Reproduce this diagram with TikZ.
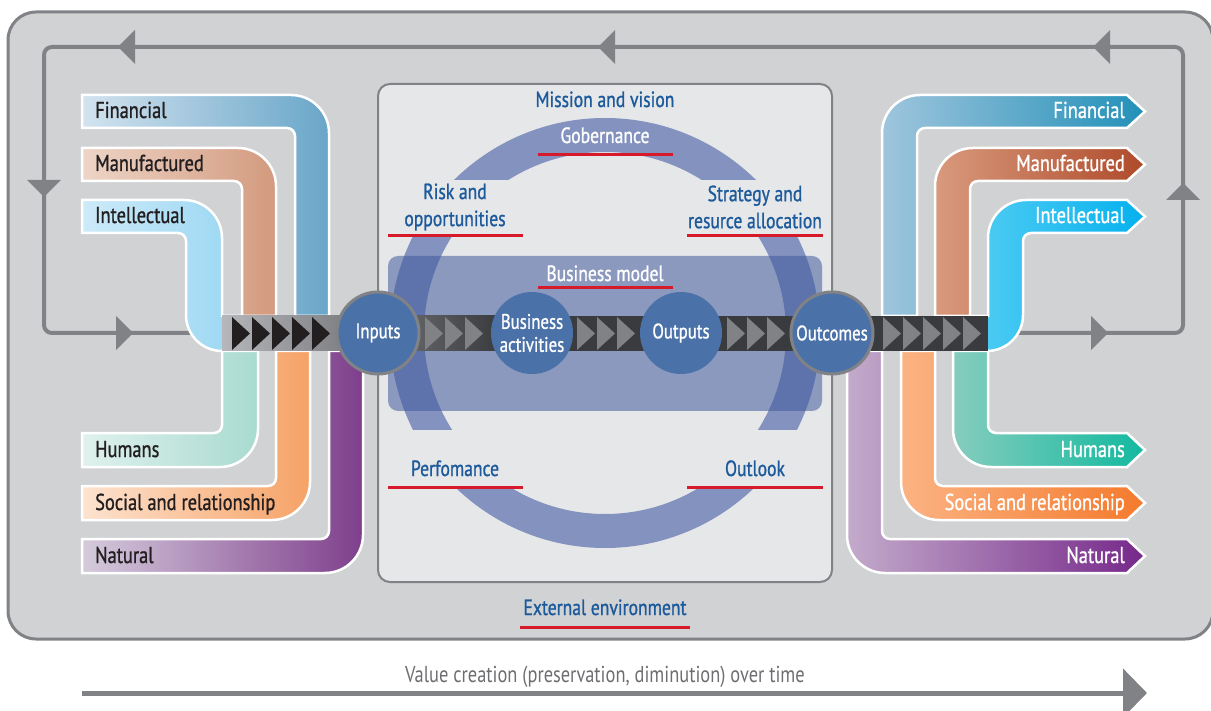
\documentclass[tikz,border=0pt]{standalone}
\usepackage{fontspec}
\setmainfont{PT Sans}[FakeStretch=0.8, FakeBold=1]
\newfontfamily\thinfont{PT Sans}[FakeStretch=0.8]
\usetikzlibrary{arrows.meta}

\definecolor{outergray}{HTML}{D1D2D4}
\definecolor{loopgray}{HTML}{808285}
\definecolor{panelgray}{HTML}{E6E7E9}
\definecolor{ringblue}{RGB}{131,146,190}
\definecolor{bmblue}{RGB}{65,89,158}
\definecolor{hubblue}{HTML}{4A72A8}
\definecolor{labelblue}{HTML}{1D5A9C}
\definecolor{linered}{HTML}{D71A2A}
\definecolor{inkblack}{HTML}{231F20}
\definecolor{stripL}{HTML}{B5B7BA}
\definecolor{stripD}{HTML}{3A3B3F}
% capitals going in
\definecolor{finL1}{HTML}{D3E3EF}\definecolor{finL2}{HTML}{69A6C9}
\definecolor{manL1}{HTML}{EDD5C7}\definecolor{manL2}{HTML}{D39A7E}
\definecolor{intL1}{HTML}{CDEAF8}\definecolor{intL2}{HTML}{9AD7F3}
\definecolor{humL1}{HTML}{DFF1ED}\definecolor{humL2}{HTML}{A9DBD0}
\definecolor{socL1}{HTML}{FDE3D0}\definecolor{socL2}{HTML}{F6A266}
\definecolor{natL1}{HTML}{D5CBDC}\definecolor{natL2}{HTML}{7E3F8C}
% capitals coming out
\definecolor{finR1}{HTML}{9FC5DD}\definecolor{finR2}{HTML}{2290B8}
\definecolor{manR1}{HTML}{D99A7D}\definecolor{manR2}{HTML}{AE4A2A}
\definecolor{intR1}{HTML}{52CDF3}\definecolor{intR2}{HTML}{05B1EE}
\definecolor{humR1}{HTML}{86CDBE}\definecolor{humR2}{HTML}{12B99F}
\definecolor{socR1}{HTML}{FBB383}\definecolor{socR2}{HTML}{F47A2C}
\definecolor{natR1}{HTML}{C3ABCB}\definecolor{natR2}{HTML}{76288A}

\newcommand{\looptip}[3]{\fill[loopgray, shift={(#1,#2)}, rotate=#3] (8,0) -- (-9,-17) -- (-9,17) -- cycle;}

\begin{document}
\begin{tikzpicture}[x=1pt, y=-1pt,
        band/.style={draw=white, line width=2.5pt},
        intext/.style={anchor=base west, inner sep=0pt, text=inkblack, font=\fontsize{23}{25}\selectfont},
        outtext/.style={anchor=base east, inner sep=0pt, text=white, font=\fontsize{23}{25}\selectfont},
        hub/.style={circle, fill=hubblue, text=white, minimum size=82pt, inner sep=0pt, align=center, font=\fontsize{21}{23}\selectfont},
        ringtext/.style={text=labelblue, align=center, inner sep=0pt, font=\fontsize{22}{27}\selectfont},
        redline/.style={draw=linered, line width=3pt},
        gap/.style={fill=panelgray}]
    \useasboundingbox (0,0) rectangle (1211,711);

    % Outer frame
    \draw[fill=outergray, draw=loopgray, line width=3pt, rounded corners=28pt] (8,12) rectangle (1213,639);

    % Feedback loop
    \draw[loopgray, line width=4pt, rounded corners=8pt] (230,333) -- (44,333) -- (44,47) -- (1183,47) -- (1183,333) -- (990,333);
    \looptip{126}{47}{180}
    \looptip{606}{47}{180}
    \looptip{1101}{47}{180}
    \looptip{44}{189}{-90}
    \looptip{125}{333}{0}
    \looptip{1183}{191}{90}
    \looptip{1100}{333}{0}

    % Central panel
    \draw[fill=panelgray, draw=loopgray, line width=2pt, rounded corners=12pt] (378,84) rectangle (832,582);

    % Ring
    \draw[ringblue, line width=34pt] (605,333) circle[radius=198];
    \fill[gap] (384,180) rectangle (527,237);
    \fill[gap] (684,180) rectangle (828,237);
    \fill[gap] (384,430) rectangle (527,487);
    \fill[gap] (684,430) rectangle (828,487);

    % Business model
    \fill[bmblue, fill opacity=0.55, rounded corners=10pt] (388,256) rectangle (822,411);

    % Bands going in
    \path[band, left color=finL1, right color=finL2] (82,95) -- (291,95) arc[start angle=270, end angle=360, radius=38] -- (329,316) -- (295,316) -- (295,136) arc[start angle=0, end angle=-90, radius=8] -- (82,128) -- cycle;
    \path[band, left color=manL1, right color=manL2] (82,148) -- (238,148) arc[start angle=270, end angle=360, radius=38] -- (276,316) -- (242,316) -- (242,189) arc[start angle=0, end angle=-90, radius=8] -- (82,181) -- cycle;
    \path[band, left color=intL1, right color=intL2] (82,200) -- (184,200) arc[start angle=270, end angle=360, radius=38] -- (222,316) -- (240,316) -- (240,351) -- (222,351) arc[start angle=90, end angle=180, radius=36] -- (186,241) arc[start angle=0, end angle=-90, radius=8] -- (82,233) -- cycle;
    \path[band, left color=humL1, right color=humL2] (82,433) -- (214,433) arc[start angle=90, end angle=0, radius=8] -- (222,351) -- (258,351) -- (258,429) arc[start angle=0, end angle=90, radius=38] -- (82,467) -- cycle;
    \path[band, left color=socL1, right color=socL2] (82,486) -- (268,486) arc[start angle=90, end angle=0, radius=8] -- (276,351) -- (310,351) -- (310,482) arc[start angle=0, end angle=90, radius=38] -- (82,520) -- cycle;
    \path[band, left color=natL1, right color=natL2] (82,539) -- (321,539) arc[start angle=90, end angle=0, radius=8] -- (329,351) -- (363,351) -- (363,535) arc[start angle=0, end angle=90, radius=38] -- (82,573) -- cycle;

    % Bands coming out
    \path[band, left color=finR1, right color=finR2] (1127,128) -- (1145,111.5) -- (1127,95) -- (920,95) arc[start angle=270, end angle=180, radius=38] -- (882,316) -- (917,316) -- (917,136) arc[start angle=180, end angle=270, radius=8] -- cycle;
    \path[band, left color=manR1, right color=manR2] (1127,181) -- (1145,164.5) -- (1127,148) -- (973,148) arc[start angle=270, end angle=180, radius=38] -- (935,316) -- (970,316) -- (970,189) arc[start angle=180, end angle=270, radius=8] -- cycle;
    \path[band, left color=intR1, right color=intR2] (1127,233) -- (1145,216.5) -- (1127,200) -- (1026,200) arc[start angle=270, end angle=180, radius=38] -- (988,316) -- (970,316) -- (970,351) -- (987,351) arc[start angle=90, end angle=0, radius=36] -- (1023,241) arc[start angle=180, end angle=270, radius=8] -- cycle;
    \path[band, left color=humR1, right color=humR2] (1127,433) -- (1145,450) -- (1127,467) -- (991,467) arc[start angle=90, end angle=180, radius=38] -- (953,351) -- (988,351) -- (988,425) arc[start angle=180, end angle=90, radius=8] -- cycle;
    \path[band, left color=socR1, right color=socR2] (1127,486) -- (1145,503) -- (1127,520) -- (939,520) arc[start angle=90, end angle=180, radius=38] -- (901,351) -- (935,351) -- (935,478) arc[start angle=180, end angle=90, radius=8] -- cycle;
    \path[band, left color=natR1, right color=natR2] (1127,539) -- (1145,556) -- (1127,573) -- (885,573) arc[start angle=90, end angle=180, radius=38] -- (847,351) -- (882,351) -- (882,531) arc[start angle=180, end angle=90, radius=8] -- cycle;

    % Conveyor strip
    \shade[left color=stripL, right color=stripD] (222,316) rectangle (500,351);
    \fill[stripD] (500,316) rectangle (988,351);
    \foreach \x in {232,252,272,292,312} {
        \fill[inkblack] (\x,317) -- (\x+18,333.5) -- (\x,350) -- cycle;
    }
    \foreach \x in {425,445,465,577,597,617,727,747,767,883,903,923,943,963} {
        \fill[loopgray] (\x,317) -- (\x+18,333.5) -- (\x,350) -- cycle;
    }

    % Hubs
    \node[hub, draw=loopgray, line width=3pt] (inputs) at (378,333) {Inputs};
    \node[hub] (activities) at (532,333) {Business\\activities};
    \node[hub] (outputs) at (681,333) {Outputs};
    \node[hub, draw=loopgray, line width=3pt] (outcomes) at (832,333) {Outcomes};

    % Band labels
    \node[intext] (fin-in) at (95,118) {Financial};
    \node[intext] (man-in) at (95,171) {Manufactured};
    \node[intext] (int-in) at (95,223) {Intellectual};
    \node[intext] (hum-in) at (95,457) {Humans};
    \node[intext] (soc-in) at (95,510) {Social and relationship};
    \node[intext] (nat-in) at (95,563) {Natural};
    \node[outtext] (fin-out) at (1125,118) {Financial};
    \node[outtext] (man-out) at (1125,171) {Manufactured};
    \node[outtext] (int-out) at (1125,223) {Intellectual};
    \node[outtext] (hum-out) at (1125,457) {Humans};
    \node[outtext] (soc-out) at (1125,510) {Social and relationship};
    \node[outtext] (nat-out) at (1125,563) {Natural};

    % Panel labels
    \node[ringtext, anchor=base] (mission) at (605,107) {Mission and vision};
    \node[ringtext, anchor=base, text=white] (governance) at (605,143) {Gobernance};
    \node[ringtext] (risk) at (455,207) {Risk and\\opportunities};
    \node[ringtext] (strategy) at (755,207) {Strategy and\\resurce allocation};
    \node[ringtext, anchor=base, text=white] (bmodel) at (605,281) {Business model};
    \node[ringtext, anchor=base] (performance) at (455,476) {Perfomance};
    \node[ringtext, anchor=base] (outlook) at (755,476) {Outlook};
    \node[ringtext, anchor=base] (external) at (605,615) {External environment};
    \draw[redline] (538,155) -- (673,155);
    \draw[redline] (388,236) -- (523,236);
    \draw[redline] (687,236) -- (823,236);
    \draw[redline] (538,288) -- (673,288);
    \draw[redline] (388,487) -- (523,487);
    \draw[redline] (687,487) -- (823,487);
    \draw[redline] (520,627) -- (690,627);

    % Time axis
    \node[anchor=base, text=loopgray!85!black, inner sep=0pt, font=\thinfont\fontsize{23}{25}\selectfont] (timeline) at (605,682) {Value creation (preservation, diminution) over time};
    \coordinate (tstart) at (82,693);
    \coordinate (tend) at (1147,693);
    \draw[loopgray, line width=5pt, -{Triangle[length=24pt, width=48pt]}] (tstart) -- (tend);
\end{tikzpicture}
\end{document}
